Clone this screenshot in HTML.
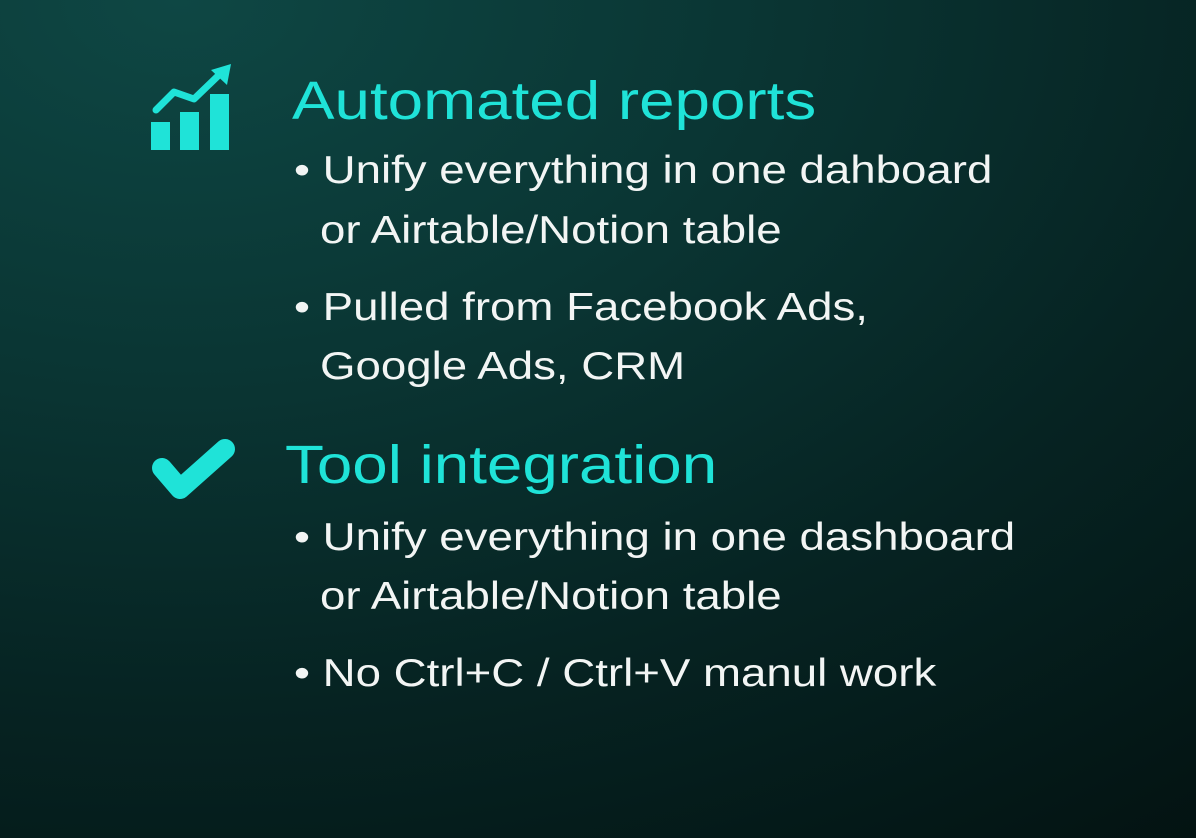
<!DOCTYPE html>
<html><head><style>
html,body{margin:0;padding:0}
body{width:1196px;height:838px;overflow:hidden;position:relative;
background:radial-gradient(ellipse 140% 130% at 15% 0%,#0e4744 0%,#0a3533 35%,#062322 65%,#031211 100%);
font-family:"Liberation Sans",sans-serif;}
.t{position:absolute;white-space:nowrap;line-height:1;transform-origin:0 0}
.h{color:#1fe3d8;font-size:54px;transform:scaleX(1.18)}
.b{color:#f2f5f4;font-size:39px;transform:scaleX(1.17)}
</style></head><body>
<svg width="1196" height="838" style="position:absolute;left:0;top:0">
<g fill="#1fe3d8">
<rect x="151" y="122" width="19" height="28"/>
<rect x="180" y="112" width="19" height="38"/>
<rect x="210" y="94" width="19" height="56"/>
<polygon points="211,70 231,64 227,85"/>
</g>
<polyline points="156,110 174,92 194,99 220,74" fill="none" stroke="#1fe3d8" stroke-width="7" stroke-linecap="round" stroke-linejoin="round"/>
<polyline points="162,468 180,489 225,449" fill="none" stroke="#1fe3d8" stroke-width="20" stroke-linecap="round" stroke-linejoin="round"/>
</svg>
<div class="t h" style="left:292px;top:74px">Automated reports</div>
<div class="t b" style="left:294px;top:151px">• Unify everything in one dahboard</div>
<div class="t b" style="left:320px;top:211px">or Airtable/Notion table</div>
<div class="t b" style="left:294px;top:288px">• Pulled from Facebook Ads,</div>
<div class="t b" style="left:320px;top:347px">Google Ads, CRM</div>
<div class="t h" style="left:285px;top:438px">Tool integration</div>
<div class="t b" style="left:294px;top:518px">• Unify everything in one dashboard</div>
<div class="t b" style="left:320px;top:577px">or Airtable/Notion table</div>
<div class="t b" style="left:294px;top:654px">• No Ctrl+C / Ctrl+V manul work</div>
</body></html>
